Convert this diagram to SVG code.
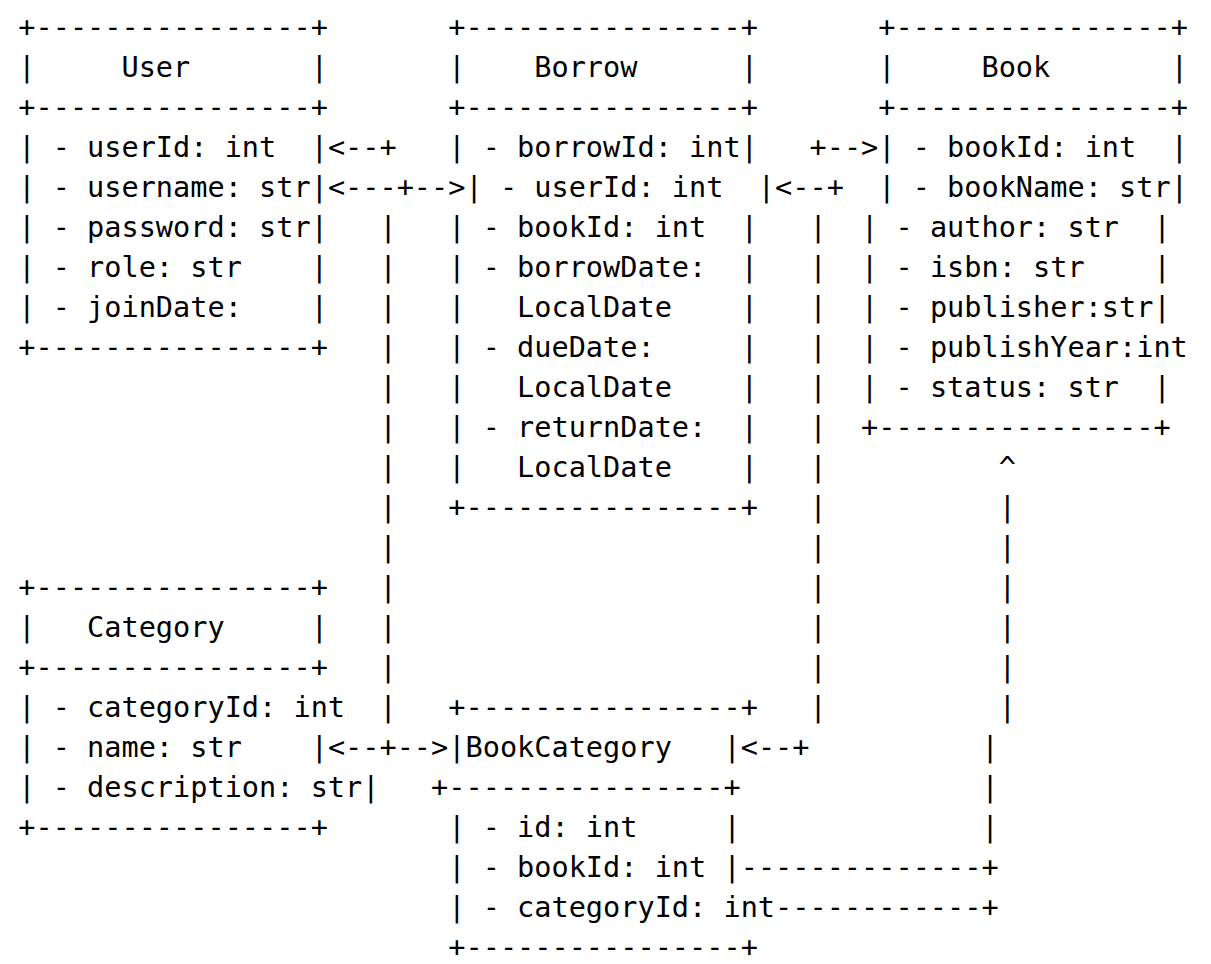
<svg xmlns="http://www.w3.org/2000/svg" width="1211" height="964" viewBox="0 0 1211 964" xml:space="preserve">
<style>
text { font-family: "DejaVu Sans Mono", "Liberation Mono", monospace; font-size: 28.57px; fill: #000; white-space: pre; }
</style>
<rect width="1211" height="964" fill="#fff"/>
<g id="User">
<text x="18.3" y="37.3">+----------------+</text>
<text x="18.3" y="77.3">|     User       |</text>
<text x="18.3" y="117.3">+----------------+</text>
<text x="18.3" y="157.3">| - userId: int  |</text>
<text x="18.3" y="197.3">| - username: str|</text>
<text x="18.3" y="237.3">| - password: str|</text>
<text x="18.3" y="277.3">| - role: str    |</text>
<text x="18.3" y="317.3">| - joinDate:    |</text>
<text x="18.3" y="357.3">+----------------+</text>
</g>
<g id="Borrow">
<text x="448.3" y="37.3">+----------------+</text>
<text x="448.3" y="77.3">|    Borrow      |</text>
<text x="448.3" y="117.3">+----------------+</text>
<text x="448.3" y="157.3">| - borrowId: int|</text>
<text x="465.5" y="197.3">| - userId: int  |</text>
<text x="448.3" y="237.3">| - bookId: int  |</text>
<text x="448.3" y="277.3">| - borrowDate:  |</text>
<text x="448.3" y="317.3">|   LocalDate    |</text>
<text x="448.3" y="357.3">| - dueDate:     |</text>
<text x="448.3" y="397.3">|   LocalDate    |</text>
<text x="448.3" y="437.3">| - returnDate:  |</text>
<text x="448.3" y="477.3">|   LocalDate    |</text>
<text x="448.3" y="517.3">+----------------+</text>
</g>
<g id="Book">
<text x="878.3" y="37.3">+----------------+</text>
<text x="878.3" y="77.3">|     Book       |</text>
<text x="878.3" y="117.3">+----------------+</text>
<text x="878.3" y="157.3">| - bookId: int  |</text>
<text x="878.3" y="197.3">| - bookName: str|</text>
<text x="861.1" y="237.3">| - author: str  |</text>
<text x="861.1" y="277.3">| - isbn: str    |</text>
<text x="861.1" y="317.3">| - publisher:str|</text>
<text x="861.1" y="357.3">| - publishYear:int</text>
<text x="861.1" y="397.3">| - status: str  |</text>
<text x="861.1" y="437.3">+----------------+</text>
</g>
<g id="Category">
<text x="18.3" y="597.3">+----------------+</text>
<text x="18.3" y="637.3">|   Category     |</text>
<text x="18.3" y="677.3">+----------------+</text>
<text x="18.3" y="717.3">| - categoryId: int</text>
<text x="18.3" y="757.3">| - name: str    |</text>
<text x="18.3" y="797.3">| - description: str|</text>
<text x="18.3" y="837.3">+----------------+</text>
</g>
<g id="BookCategory">
<text x="448.3" y="717.3">+----------------+</text>
<text x="448.3" y="757.3">|BookCategory   |</text>
<text x="431.1" y="797.3">+----------------+</text>
<text x="448.3" y="837.3">| - id: int     |</text>
<text x="448.3" y="877.3">| - bookId: int |</text>
<text x="448.3" y="917.3">| - categoryId: int</text>
<text x="448.3" y="957.3">+----------------+</text>
</g>
<g id="connectors">
<text x="327.9" y="157.3">&lt;--+</text>
<text x="809.5" y="157.3">+--&gt;</text>
<text x="327.9" y="197.3">&lt;---+--&gt;</text>
<text x="775.1" y="197.3">&lt;--+</text>
<text x="379.5" y="237.3">|</text><text x="379.5" y="277.3">|</text><text x="379.5" y="317.3">|</text><text x="379.5" y="357.3">|</text>
<text x="379.5" y="397.3">|</text><text x="379.5" y="437.3">|</text><text x="379.5" y="477.3">|</text><text x="379.5" y="517.3">|</text>
<text x="379.5" y="557.3">|</text><text x="379.5" y="597.3">|</text><text x="379.5" y="637.3">|</text><text x="379.5" y="677.3">|</text>
<text x="379.5" y="717.3">|</text>
<text x="809.5" y="237.3">|</text><text x="809.5" y="277.3">|</text><text x="809.5" y="317.3">|</text><text x="809.5" y="357.3">|</text>
<text x="809.5" y="397.3">|</text><text x="809.5" y="437.3">|</text><text x="809.5" y="477.3">|</text><text x="809.5" y="517.3">|</text>
<text x="809.5" y="557.3">|</text><text x="809.5" y="597.3">|</text><text x="809.5" y="637.3">|</text><text x="809.5" y="677.3">|</text>
<text x="809.5" y="717.3">|</text>
<text x="327.9" y="757.3">&lt;--+--&gt;</text>
<text x="740.7" y="757.3">&lt;--+</text>
<text x="998.7" y="477.3">^</text>
<text x="998.7" y="517.3">|</text><text x="998.7" y="557.3">|</text><text x="998.7" y="597.3">|</text><text x="998.7" y="637.3">|</text>
<text x="998.7" y="677.3">|</text><text x="998.7" y="717.3">|</text>
<text x="981.5" y="757.3">|</text><text x="981.5" y="797.3">|</text><text x="981.5" y="837.3">|</text>
<text x="740.7" y="877.3">--------------+</text>
<text x="775.1" y="917.3">------------+</text>
</g>
</svg>
